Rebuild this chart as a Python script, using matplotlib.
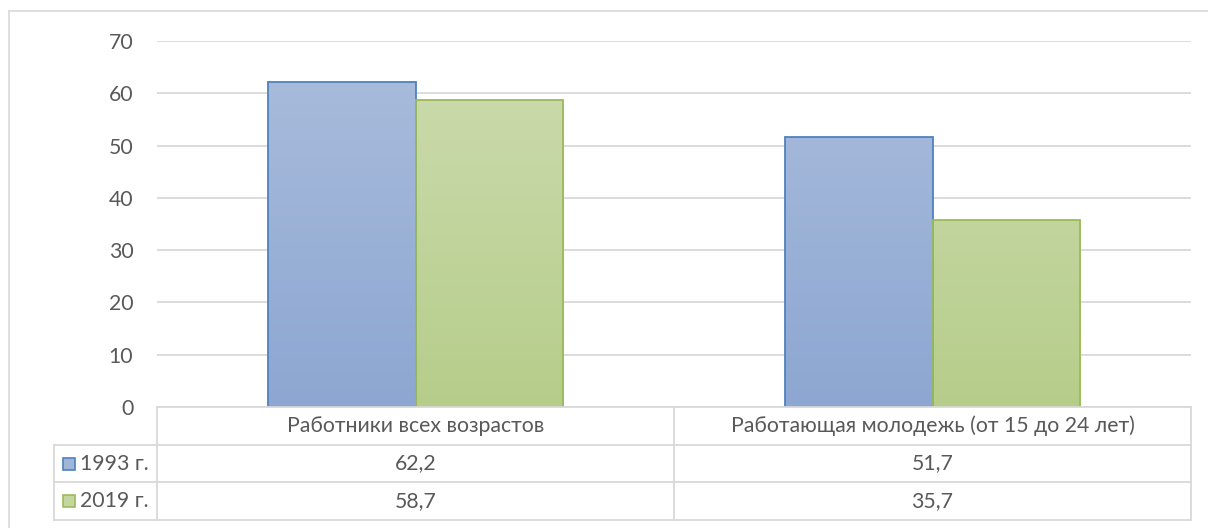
import numpy as np
import matplotlib
matplotlib.use("Agg")
import matplotlib.pyplot as plt
from matplotlib.patches import Rectangle
from matplotlib.lines import Line2D
from matplotlib.colors import LinearSegmentedColormap

plt.rcParams['font.family'] = ['Lato', 'DejaVu Sans']

categories = ["Работники всех возрастов", "Работающая молодежь (от 15 до 24 лет)"]
series_names = ["1993 г.", "2019 г."]
values_1993 = [62.2, 51.7]
values_2019 = [58.7, 35.7]
value_labels_1993 = ["62,2", "51,7"]
value_labels_2019 = ["58,7", "35,7"]
yticks = [0, 10, 20, 30, 40, 50, 60, 70]

W, H = 1208, 528
fig = plt.figure(figsize=(W / 100, H / 100), dpi=100)

def px_rect(x0, y0, x1, y1):
    return [x0 / W, 1 - y1 / H, (x1 - x0) / W, (y1 - y0) / H]

text_color = "#595959"
grid_color = "#D9D9D9"
fs = 15.3

# outer frame (left and top edges visible)
frame = fig.add_axes([0, 0, 1, 1])
frame.set_xlim(0, W)
frame.set_ylim(H, 0)
frame.axis("off")
frame.add_line(Line2D([8.5, 8.5], [11, H + 5], color=grid_color, lw=1.2))
frame.add_line(Line2D([8.5, W + 5], [11, 11], color=grid_color, lw=1.2))

# plot area
ax = fig.add_axes(px_rect(157, 41, 1191, 407))
ax.set_xlim(-0.5, 1.5)
ax.set_ylim(0, 70)
ax.set_yticks(yticks)
ax.set_xticks([])
for s in ax.spines.values():
    s.set_visible(False)
ax.yaxis.grid(True, color=grid_color, lw=1.3)
ax.set_axisbelow(True)
ax.tick_params(axis="y", length=0, pad=17, labelsize=fs, labelcolor=text_color)

blue_cmap = LinearSegmentedColormap.from_list("b", ["#8DA7D2", "#AABDDC"])
green_cmap = LinearSegmentedColormap.from_list("g", ["#B6CD8A", "#CDDCB0"])

x = np.arange(len(categories))
bw = 0.286
series = [(values_1993, "#4F81BD", blue_cmap, -bw / 2),
          (values_2019, "#9BBB59", green_cmap, bw / 2)]
grad = np.linspace(0, 1, 256).reshape(-1, 1)
for vals, edge, cmap, off in series:
    bars = ax.bar(x + off, vals, width=bw, color="none", edgecolor=edge, lw=1.3, zorder=3)
    for b in bars:
        x0, w, h = b.get_x(), b.get_width(), b.get_height()
        im = ax.imshow(grad, cmap=cmap, aspect="auto", extent=[x0, x0 + w, 0, 70],
                       origin="lower", zorder=2, interpolation="bilinear")
        clip = Rectangle((x0, 0), w, h, transform=ax.transData)
        im.set_clip_path(clip)
ax.set_xlim(-0.5, 1.5)
ax.set_ylim(0, 70)

# data table beneath the plot
tab = fig.add_axes([0, 0, 1, 1], zorder=5)
tab.set_xlim(0, W)
tab.set_ylim(H, 0)
tab.axis("off")
tab.patch.set_alpha(0)

col_x = [54, 157, 674, 1191]
row_y = [407, 445, 482, 520]
lc = "#D9D9D9"
lw = 1.3
# header row borders (no left cell)
tab.add_line(Line2D([157, 1191], [row_y[0], row_y[0]], color=lc, lw=lw))
for yy in row_y[1:]:
    tab.add_line(Line2D([54, 1191], [yy, yy], color=lc, lw=lw))
tab.add_line(Line2D([54, 54], [row_y[1], row_y[3]], color=lc, lw=lw))
for xx in col_x[1:]:
    tab.add_line(Line2D([xx, xx], [row_y[0], row_y[3]], color=lc, lw=lw))

for i, cat in enumerate(categories):
    cx = (col_x[i + 1] + col_x[i + 2]) / 2
    tab.text(cx, (row_y[0] + row_y[1]) / 2, cat, ha="center", va="center",
             fontsize=fs, color=text_color)

row_labels = [value_labels_1993, value_labels_2019]
keys = [("#4F81BD", "#A0B6D9"), ("#9BBB59", "#C3D6A0")]
for r, name in enumerate(series_names):
    cy = (row_y[r + 1] + row_y[r + 2]) / 2
    ec, fc = keys[r]
    tab.add_patch(Rectangle((63, cy - 6), 12, 12, facecolor=fc, edgecolor=ec, lw=1.2))
    tab.text(80, cy, name, ha="left", va="center", fontsize=fs, color=text_color)
    for i, lab in enumerate(row_labels[r]):
        cx = (col_x[i + 1] + col_x[i + 2]) / 2
        tab.text(cx, cy, lab, ha="center", va="center", fontsize=fs, color=text_color)

fig.savefig("out.png", dpi=100)
